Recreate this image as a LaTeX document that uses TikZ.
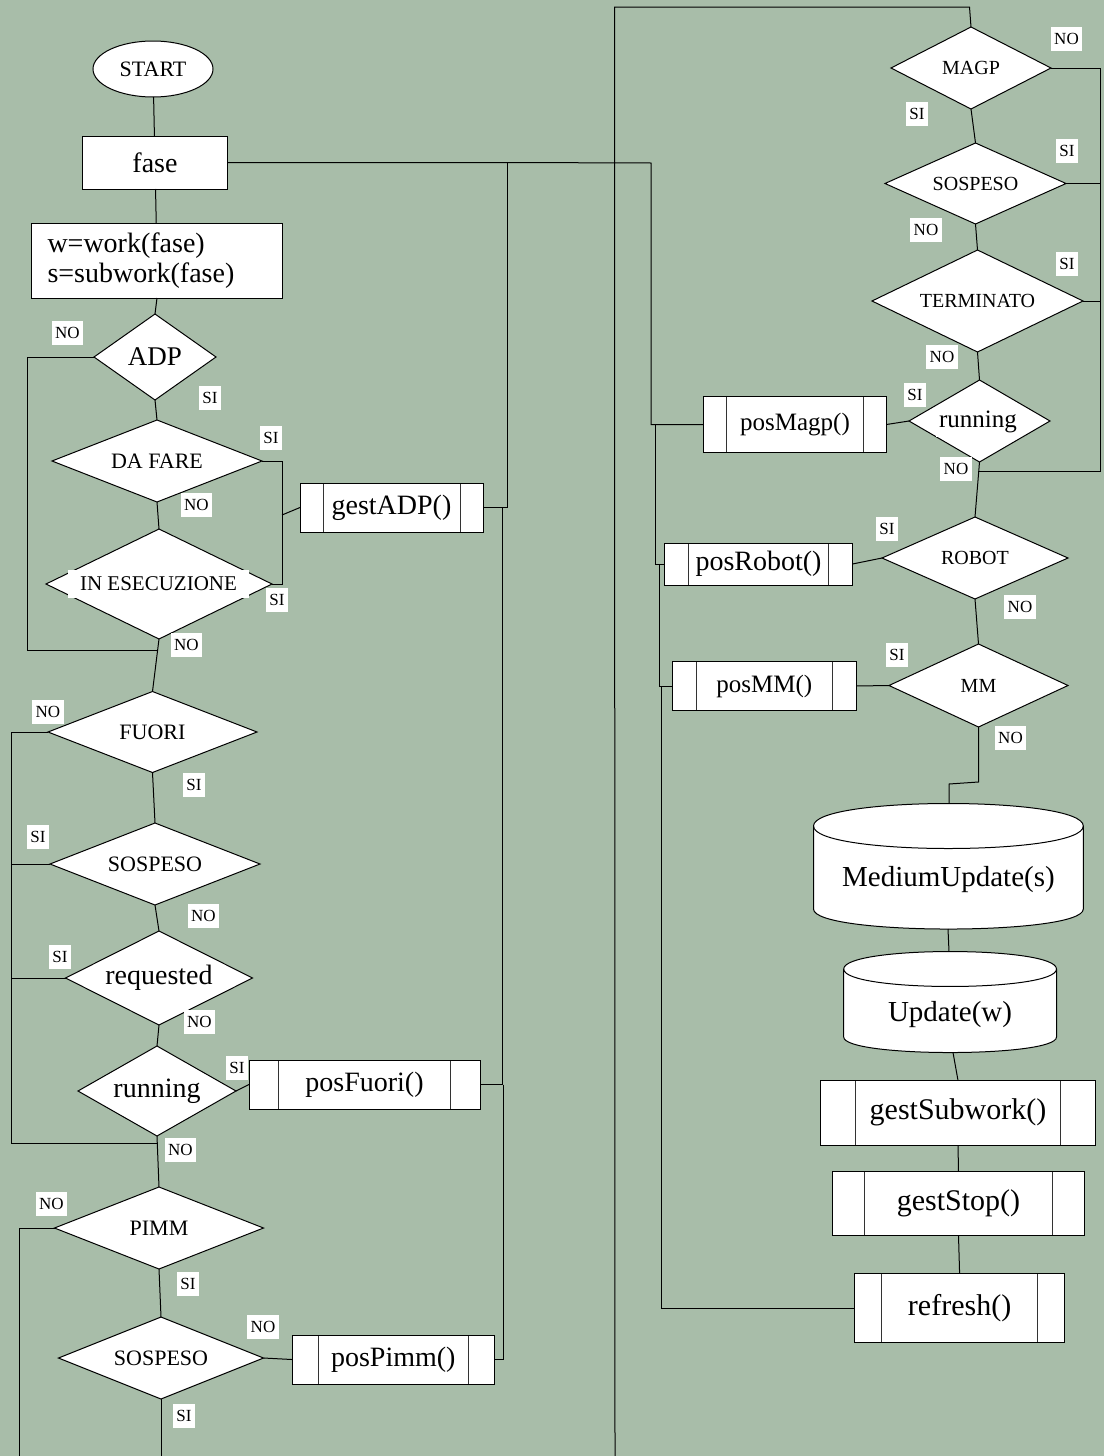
\documentclass[tikz,border=0pt]{standalone}
\usepackage{fontspec}
\setmainfont{Liberation Serif}
\usetikzlibrary{shapes.geometric}
\definecolor{sage}{RGB}{168,189,169}
\newcommand\pxfont[1]{\fontsize{#1}{#1}\selectfont}

\begin{document}
\begin{tikzpicture}[x=1pt,y=-1pt,
  line width=1pt,
  every node/.style={inner sep=0pt, outer sep=0pt},
  dec/.style={draw, fill=white, shape=diamond, aspect=2.2, font=\pxfont{22}},
  decR/.style={dec, font=\pxfont{20}},
  box/.style={draw, fill=white, rectangle},
  proc/.style={draw, fill=white, rectangle, font=\pxfont{28},
    path picture={\draw[black!80, line width=1pt]
      ([xshift=#1pt]path picture bounding box.north west) -- ([xshift=#1pt]path picture bounding box.south west)
      ([xshift=-#1pt]path picture bounding box.north east) -- ([xshift=-#1pt]path picture bounding box.south east);}},
  lab/.style={fill=white, inner xsep=3.5pt, minimum height=24pt, font=\pxfont{17}},
  ontext/.style={fill=white, inner xsep=3pt}
]
% page background
\fill[sage] (0,0) rectangle (1104,1456);
\useasboundingbox (0,0) rectangle (1104,1456);

% ---------- left column ----------
\node[draw, fill=white, ellipse, minimum width=120pt, minimum height=56pt, font=\pxfont{22}] (start) at (153,69) {START};
\node[box, minimum width=145pt, minimum height=53pt, font=\pxfont{28}] (fase) at (155,162.5) {fase};
\node[box, minimum height=75pt, text width=219pt, inner xsep=16pt, align=left,
      font=\fontsize{28}{30}\selectfont] (assign) at (157,260.5) {w=work(fase)\\s=subwork(fase)};

\node[dec, minimum width=122pt, minimum height=86pt, aspect=1.4, font=\pxfont{27}] (adp) at (155,357) {ADP};
\node[dec, minimum width=210pt, minimum height=82pt, aspect=2.5] (dafare) at (157,461) {DA FARE};
\node[dec, minimum width=226pt, minimum height=110pt] (iesec) at (159,584) {};
\node[ontext, minimum width=181pt, minimum height=28pt, font=\pxfont{21}] (iesectext) at (158.5,584) {IN ESECUZIONE};

\node[dec, minimum width=209pt, minimum height=81pt, aspect=2.5] (fuori) at (152.5,732) {FUORI};
\node[dec, minimum width=210pt, minimum height=82pt, aspect=2.5] (sospA) at (155,864) {SOSPESO};
\node[dec, minimum width=187pt, minimum height=94pt, aspect=2, font=\pxfont{28}] (req) at (159,978) {requested};
\node[dec, minimum width=158pt, minimum height=90pt, aspect=1.75, font=\pxfont{28}] (runA) at (157,1091) {running};
\node[dec, minimum width=209pt, minimum height=82pt, aspect=2.5] (pimm) at (159,1228) {PIMM};
\node[dec, minimum width=205pt, minimum height=82pt, aspect=2.5] (sospB) at (161,1358) {SOSPESO};

\node[proc=23, minimum width=183pt, minimum height=49pt] (gestadp) at (391.5,507.5) {gestADP()};
\node[proc=29.5, minimum width=231pt, minimum height=49pt] (posfuori) at (364.5,1084.5) {posFuori()};
\node[proc=26, minimum width=202.6pt, minimum height=49pt] (pospimm) at (393.3,1359.5) {posPimm()};

% ---------- right column ----------
\node[decR, minimum width=160pt, minimum height=82pt, aspect=2] (magp) at (971,68) {MAGP};
\node[decR, minimum width=181pt, minimum height=81pt] (sospC) at (975.5,183.5) {SOSPESO};
\node[decR, minimum width=211pt, minimum height=102pt, aspect=2] (term) at (977.5,301) {TERMINATO};
\node[decR, minimum width=141pt, minimum height=82pt, aspect=1.7] (runB) at (979.5,421) {};
\node[ontext, minimum width=85pt, minimum height=29pt, font=\pxfont{25}] (runBtext) at (978,422) {running};
\node[decR, minimum width=186pt, minimum height=82pt] (robot) at (975,558) {ROBOT};
\node[decR, minimum width=179pt, minimum height=83pt] (mm) at (978.5,685.5) {MM};

\node[proc=23, minimum width=183pt, minimum height=56.5pt, font=\pxfont{25}] (posmagp) at (795,424.5) {posMagp()};
\node[proc=24, minimum width=188pt, minimum height=42pt] (posrobot) at (758.5,564) {posRobot()};
\node[proc=23.5, minimum width=183.4pt, minimum height=49.7pt, font=\pxfont{25}] (posmm) at (764.3,686) {posMM()};

% storage drums
\draw[fill=white] (813.5,826) -- (813.5,909) .. controls (813.5,935.7) and (1083.3,935.7) .. (1083.3,909)
  -- (1083.3,826) .. controls (1083.3,796) and (813.5,796) .. (813.5,826) -- cycle;
\draw (813.5,826) .. controls (813.5,856) and (1083.3,856) .. (1083.3,826);
\node[font=\pxfont{29}] (medupd) at (948.4,880) {MediumUpdate(s)};
\coordinate (mutop) at (949,803.5);
\coordinate (mubot) at (948,929);

\draw[fill=white] (843.7,969) -- (843.7,1037) .. controls (843.7,1057.7) and (1056.5,1057.7) .. (1056.5,1037)
  -- (1056.5,969) .. controls (1056.5,945.7) and (843.7,945.7) .. (843.7,969) -- cycle;
\draw (843.7,969) .. controls (843.7,992.3) and (1056.5,992.3) .. (1056.5,969);
\node[font=\pxfont{29}] (upd) at (950,1014.6) {Update(w)};
\coordinate (updtop) at (949,951.5);
\coordinate (updbot) at (953,1052.5);

\node[proc=35, minimum width=275pt, minimum height=64.6pt, font=\pxfont{30}] (gestsub) at (958,1112.7) {gestSubwork()};
\node[proc=32, minimum width=251.7pt, minimum height=64pt, font=\pxfont{30}] (geststop) at (958.5,1203.5) {gestStop()};
\node[proc=26.7, minimum width=209.7pt, minimum height=69pt, font=\pxfont{30}] (refresh) at (959.6,1308) {refresh()};

% ---------- routing points ----------
\coordinate (la1) at (27,357);   \coordinate (la2) at (27,650);   \coordinate (jA) at (157,650);
\coordinate (ra1) at (282,461);  \coordinate (ra2) at (282,584);  \coordinate (ram) at (282,515);
\coordinate (lf1) at (11,732);   \coordinate (lf2) at (11,1143);  \coordinate (jB) at (157,1143);
\coordinate (lp1) at (19,1228);  \coordinate (lp2) at (19,1456);  \coordinate (lbot) at (161,1456);
\coordinate (m1) at (507,162.5); \coordinate (m2) at (651,163);   \coordinate (m3) at (651,424.5);
\coordinate (m4) at (507,507.5); \coordinate (m5) at (502,507.5); \coordinate (m8) at (503.6,1084.5);
\coordinate (m9) at (655,424.5); \coordinate (m10) at (659,564);  \coordinate (m11) at (661,686);
\coordinate (lbus0) at (615,1456); \coordinate (lbus1) at (614.5,7); \coordinate (top2) at (969.5,7);
\coordinate (rt1) at (1100,68);  \coordinate (rt2) at (1100,471); \coordinate (jR) at (978,471);
\coordinate (mj1) at (978.5,782); \coordinate (mj2) at (949,784);

% ---------- connectors, left column ----------
\draw (start) -- (fase);
\draw (fase) -- (assign);
\draw (assign.south) -- (adp.north);
\draw (adp.south) -- (dafare.north);
\draw (dafare.south) -- (iesec.north);
\draw (iesec.south) -- (fuori.north);
\draw (adp.west) -- (la1) -- (la2) -- (jA);
\draw (dafare.east) -- (ra1) -- (ra2) -- (iesec.east);
\draw (ram) -- (gestadp.west);
\draw (fuori.south) -- (sospA.north);
\draw (sospA.south) -- (req.north);
\draw (req.south) -- (runA.north);
\draw (runA.south) -- (pimm.north);
\draw (pimm.south) -- (sospB.north);
\draw (sospB.south) -- (lbot);
\draw (fuori.west) -- (lf1) -- (lf2) -- (jB);
\draw (sospA.west) -- (sospA.west -| lf1);
\draw (req.west) -- (req.west -| lf1);
\draw (runA.east) -- (posfuori.west);
\draw (pimm.west) -- (lp1) -- (lp2);
\draw (sospB.east) -- (pospimm.west);

% ---------- connectors, middle buses ----------
\draw (fase.east) -- (m1) -- (m2) -- (m3) -- (posmagp.west);
\draw (gestadp.east) -- (m4) -- (m1);
\draw (m5) |- (posfuori.east);
\draw (m8) |- (pospimm.east);
\draw (m9) |- (posrobot.west);
\draw (m10) |- (posmm.west);
\draw (m11) |- (refresh.west);
\draw (lbus0) -- (lbus1) -- (top2) -- (magp.north);

% ---------- connectors, right column ----------
\draw (magp.south) -- (sospC.north);
\draw (sospC.south) -- (term.north);
\draw (term.south) -- (runB.north);
\draw (runB.south) -- (robot.north);
\draw (robot.south) -- (mm.north);
\draw (magp.east) -- (rt1) -- (rt2) -- (jR);
\draw (sospC.east) -- (sospC.east -| rt1);
\draw (term.east) -- (term.east -| rt1);
\draw (runB.west) -- (posmagp.east);
\draw (robot.west) -- (posrobot.east);
\draw (mm.west) -- (posmm.east);
\draw (mm.south) -- (mj1) -- (mj2) -- (mutop);
\draw (mubot) -- (updtop);
\draw (updbot) -- (gestsub.north);
\draw (gestsub.south) -- (geststop.north);
\draw (geststop.south) -- (refresh.north);

% ---------- branch labels ----------
\node[lab] (t1) at (67.5,333) {NO};
\node[lab] (t2) at (210,397.5) {SI};
\node[lab] (t3) at (271,438) {SI};
\node[lab] (t4) at (196.5,505) {NO};
\node[lab] (t5) at (277,600) {SI};
\node[lab] (t6) at (186.5,645) {NO};
\node[lab] (t7) at (48,711.5) {NO};
\node[lab] (t8) at (194,785) {SI};
\node[lab] (t9) at (38,836.5) {SI};
\node[lab] (t10) at (203.5,916) {NO};
\node[lab] (t11) at (60,957) {SI};
\node[lab] (t12) at (199.5,1021.5) {NO};
\node[lab] (t13) at (237,1067.5) {SI};
\node[lab] (t14) at (180.5,1150) {NO};
\node[lab] (t15) at (51.5,1204) {NO};
\node[lab] (t16) at (188,1283.5) {SI};
\node[lab] (t17) at (263,1326.5) {NO};
\node[lab] (t18) at (184,1415.5) {SI};
\node[lab] (t19) at (1066.5,39) {NO};
\node[lab] (t20) at (917,114) {SI};
\node[lab] (t21) at (1067,150.5) {SI};
\node[lab] (t22) at (926,229.5) {NO};
\node[lab] (t23) at (1067,264) {SI};
\node[lab] (t24) at (942,357) {NO};
\node[lab] (t25) at (915,395) {SI};
\node[lab] (t26) at (956,468.5) {NO};
\node[lab] (t27) at (887,529) {SI};
\node[lab] (t28) at (1020,606.5) {NO};
\node[lab] (t29) at (897,655) {SI};
\node[lab] (t30) at (1010.5,737.5) {NO};
\end{tikzpicture}
\end{document}
